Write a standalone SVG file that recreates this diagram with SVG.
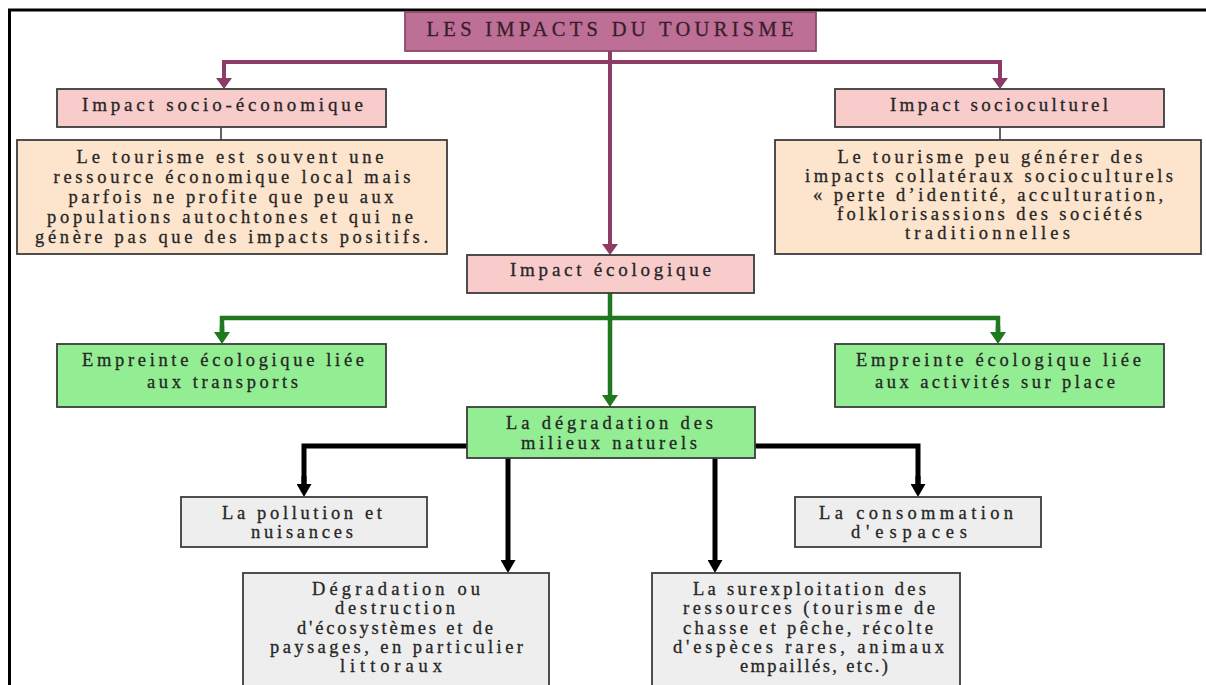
<svg xmlns="http://www.w3.org/2000/svg" width="1206" height="685" viewBox="0 0 1206 685">
  <style>
    text { font-family: "Liberation Serif", "Times New Roman", serif; fill: #262626; text-anchor: middle; stroke: #262626; stroke-width: 0.3; }
    .t17 { font-size: 18.5px; }
    .t18 { font-size: 19px; }
    .title { font-size: 20.5px; fill: #3a1d2c; stroke: #3a1d2c; }
    .box { stroke: #3c3c3c; stroke-width: 1.8; }
    .title-box { fill: #BD6F96; stroke: #8A4A6A; stroke-width: 1.8; }
    .pink { fill: #F9CCCC; }
    .peach { fill: #FDE4CC; }
    .green { fill: #93EE93; }
    .grey { fill: #EEEEEE; }
    .purple { stroke: #8E3B65; stroke-width: 4; fill: none; }
    .eco { stroke: #1F7A1F; stroke-width: 4.5; fill: none; }
    .black { stroke: #000; stroke-width: 5; fill: none; }
    .thin { stroke: #3c3c3c; stroke-width: 1.6; fill: none; }
  </style>
  <defs>
    <marker id="headPurple" markerUnits="userSpaceOnUse" markerWidth="11" markerHeight="16" refX="0" refY="8" orient="auto">
      <path d="M0,0 L11,8 L0,16 z" fill="#8E3B65"/>
    </marker>
    <marker id="headGreen" markerUnits="userSpaceOnUse" markerWidth="12" markerHeight="16" refX="0" refY="8" orient="auto">
      <path d="M0,0 L12,8 L0,16 z" fill="#1F7A1F"/>
    </marker>
    <marker id="headBlack" markerUnits="userSpaceOnUse" markerWidth="13" markerHeight="15" refX="0" refY="7.5" orient="auto">
      <path d="M0,0 L13,7.5 L0,15 z" fill="#000"/>
    </marker>
  </defs>

  <rect width="1206" height="685" fill="#ffffff"/>

  <!-- outer frame, open at right and bottom -->
  <path d="M9.5,685 L9.5,10 L1206,10" fill="none" stroke="#000" stroke-width="3"/>

  <g id="connectors">
    <!-- title to the three impacts -->
    <line class="purple" x1="610" y1="51" x2="610" y2="244" marker-end="url(#headPurple)"/>
    <path class="purple" d="M224,78 L224,62 L1000,62 L1000,78" />
    <line class="purple" x1="224" y1="70" x2="224" y2="78" marker-end="url(#headPurple)"/>
    <line class="purple" x1="1000" y1="70" x2="1000" y2="78" marker-end="url(#headPurple)"/>
    <!-- headings to descriptions -->
    <line class="thin" x1="221" y1="127" x2="221" y2="140"/>
    <line class="thin" x1="1000" y1="127" x2="1000" y2="140"/>
    <!-- ecological impact -->
    <line class="eco" x1="610" y1="293" x2="610" y2="395" marker-end="url(#headGreen)"/>
    <path class="eco" d="M222,332 L222,318 L998,318 L998,332"/>
    <line class="eco" x1="222" y1="326" x2="222" y2="332" marker-end="url(#headGreen)"/>
    <line class="eco" x1="998" y1="326" x2="998" y2="332" marker-end="url(#headGreen)"/>
    <!-- degradation branches -->
    <path class="black" d="M304,484 L304,446 L918,446 L918,484"/>
    <line class="black" x1="304" y1="476" x2="304" y2="484" marker-end="url(#headBlack)"/>
    <line class="black" x1="918" y1="476" x2="918" y2="484" marker-end="url(#headBlack)"/>
    <line class="black" x1="508" y1="458" x2="508" y2="560" marker-end="url(#headBlack)"/>
    <line class="black" x1="715" y1="458" x2="715" y2="560" marker-end="url(#headBlack)"/>
  </g>

  <g id="title">
    <rect class="title-box" x="405" y="12" width="411" height="39"/>
    <text class="title" x="610" y="36" textLength="367" lengthAdjust="spacing">LES IMPACTS DU TOURISME</text>
  </g>

  <g id="socio-eco">
    <rect class="box pink" x="57" y="89" width="329" height="38"/>
    <text class="t18" x="222.5" y="111" textLength="281" lengthAdjust="spacing">Impact socio-économique</text>
  </g>

  <g id="socio-eco-text">
    <rect class="box peach" x="17" y="140" width="430" height="114"/>
    <text class="t17" x="230" y="163" textLength="307" lengthAdjust="spacing">Le tourisme est souvent une</text>
    <text class="t17" x="232" y="183" textLength="357" lengthAdjust="spacing">ressource économique local mais</text>
    <text class="t17" x="231" y="203" textLength="325" lengthAdjust="spacing">parfois ne profite que peu aux</text>
    <text class="t17" x="230" y="223" textLength="366" lengthAdjust="spacing">populations autochtones et qui ne</text>
    <text class="t17" x="231.5" y="243" textLength="393" lengthAdjust="spacing">génère pas que des impacts positifs.</text>
  </g>

  <g id="socioculturel">
    <rect class="box pink" x="835" y="89" width="329" height="38"/>
    <text class="t18" x="999" y="111" textLength="218" lengthAdjust="spacing">Impact socioculturel</text>
  </g>

  <g id="socioculturel-text">
    <rect class="box peach" x="775" y="140" width="426" height="114"/>
    <text class="t17" x="990" y="162.5" textLength="305" lengthAdjust="spacing">Le tourisme peu générer des</text>
    <text class="t17" x="989" y="181.5" textLength="368" lengthAdjust="spacing">impacts collatéraux socioculturels</text>
    <text class="t17" x="988" y="200.5" textLength="350" lengthAdjust="spacing">« perte d’identité, acculturation,</text>
    <text class="t17" x="989.5" y="219.5" textLength="305" lengthAdjust="spacing">folklorisassions des sociétés</text>
    <text class="t17" x="987.5" y="238.5" textLength="165" lengthAdjust="spacing">traditionnelles</text>
  </g>

  <g id="ecologique">
    <rect class="box pink" x="467" y="255" width="287" height="38"/>
    <text class="t18" x="610.5" y="276" textLength="201" lengthAdjust="spacing">Impact écologique</text>
  </g>

  <g id="transports">
    <rect class="box green" x="57" y="344" width="329" height="63"/>
    <text class="t17" x="223" y="366" textLength="282" lengthAdjust="spacing">Empreinte écologique liée</text>
    <text class="t17" x="222.5" y="388" textLength="151" lengthAdjust="spacing">aux transports</text>
  </g>

  <g id="activites">
    <rect class="box green" x="835" y="344" width="329" height="63"/>
    <text class="t17" x="998.5" y="366" textLength="285" lengthAdjust="spacing">Empreinte écologique liée</text>
    <text class="t17" x="995" y="388" textLength="240" lengthAdjust="spacing">aux activités sur place</text>
  </g>

  <g id="degradation">
    <rect class="box green" x="467" y="407" width="288" height="51"/>
    <text class="t17" x="609.5" y="429" textLength="207" lengthAdjust="spacing">La dégradation des</text>
    <text class="t17" x="609" y="449" textLength="176" lengthAdjust="spacing">milieux naturels</text>
  </g>

  <g id="pollution">
    <rect class="box grey" x="181" y="497" width="246" height="50"/>
    <text class="t17" x="302" y="519" textLength="160" lengthAdjust="spacing">La pollution et</text>
    <text class="t17" x="302" y="538" textLength="102" lengthAdjust="spacing">nuisances</text>
  </g>

  <g id="consommation">
    <rect class="box grey" x="795" y="497" width="246" height="50"/>
    <text class="t17" x="916" y="519" textLength="194" lengthAdjust="spacing">La consommation</text>
    <text class="t17" x="909" y="538" textLength="116" lengthAdjust="spacing">d'espaces</text>
  </g>

  <g id="ecosystemes">
    <rect class="box grey" x="243" y="573" width="306" height="120"/>
    <text class="t17" x="396" y="595" textLength="168" lengthAdjust="spacing">Dégradation ou</text>
    <text class="t17" x="395" y="614" textLength="120" lengthAdjust="spacing">destruction</text>
    <text class="t17" x="395" y="634" textLength="196" lengthAdjust="spacing">d'écosystèmes et de</text>
    <text class="t17" x="396.5" y="653" textLength="253" lengthAdjust="spacing">paysages, en particulier</text>
    <text class="t17" x="391" y="672" textLength="102" lengthAdjust="spacing">littoraux</text>
  </g>

  <g id="surexploitation">
    <rect class="box grey" x="652" y="573" width="308" height="120"/>
    <text class="t17" x="809.5" y="595" textLength="233" lengthAdjust="spacing">La surexploitation des</text>
    <text class="t17" x="809" y="614" textLength="252" lengthAdjust="spacing">ressources (tourisme de</text>
    <text class="t17" x="808" y="634" textLength="250" lengthAdjust="spacing">chasse et pêche, récolte</text>
    <text class="t17" x="808.5" y="653" textLength="271" lengthAdjust="spacing">d'espèces rares, animaux</text>
    <text class="t17" x="814" y="672" textLength="148" lengthAdjust="spacing">empaillés, etc.)</text>
  </g>
</svg>
